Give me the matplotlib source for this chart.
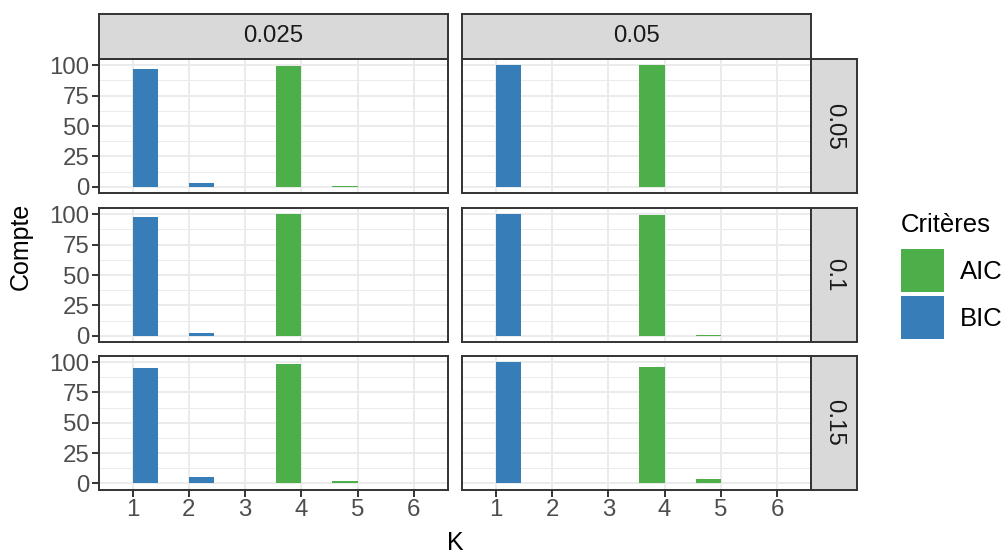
import matplotlib
matplotlib.use("Agg")
import matplotlib.pyplot as plt
from matplotlib.patches import Patch

# facet levels
col_levels = ["0.025", "0.05"]
row_levels = ["0.05", "0.1", "0.15"]
k_values = [1, 2, 3, 4, 5, 6]

# counts per panel (row, col), K = 1..6
aic_counts = {
    ("0.05", "0.025"): [0, 0, 0, 99, 1, 0],
    ("0.05", "0.05"): [0, 0, 0, 100, 0, 0],
    ("0.1", "0.025"): [0, 0, 0, 100, 0, 0],
    ("0.1", "0.05"): [0, 0, 0, 99, 1, 0],
    ("0.15", "0.025"): [0, 0, 0, 98, 2, 0],
    ("0.15", "0.05"): [0, 0, 0, 96, 4, 0],
}
bic_counts = {
    ("0.05", "0.025"): [97, 3, 0, 0, 0, 0],
    ("0.05", "0.05"): [100, 0, 0, 0, 0, 0],
    ("0.1", "0.025"): [98, 2, 0, 0, 0, 0],
    ("0.1", "0.05"): [100, 0, 0, 0, 0, 0],
    ("0.15", "0.025"): [95, 5, 0, 0, 0, 0],
    ("0.15", "0.05"): [100, 0, 0, 0, 0, 0],
}
y_ticks = [0, 25, 50, 75, 100]

AIC_COL = "#4DAF4A"
BIC_COL = "#377EB8"
BORDER = "#333333"
GRID = "#EBEBEB"
STRIP = "#D9D9D9"

plt.rcParams["font.family"] = ["Liberation Sans", "DejaVu Sans"]

W, H = 1005, 553
fig = plt.figure(figsize=(W / 100, H / 100), dpi=100)


def box(x0, y0, x1, y1):
    # pixel box (top-left origin) -> figure fraction rect
    return [x0 / W, 1 - y1 / H, (x1 - x0) / W, (y1 - y0) / H]


col_x = [(99, 447.5), (462, 811)]
row_y = [(59, 193), (208, 342), (356, 489.5)]
lw = 1.4
fs = 17.3

for i, r in enumerate(row_levels):
    for j, c in enumerate(col_levels):
        ax = fig.add_axes(box(col_x[j][0], row_y[i][0], col_x[j][1], row_y[i][1]))
        ax.set_axisbelow(True)
        ax.bar([k - 0.225 for k in k_values], aic_counts[(r, c)], width=0.45,
               color=AIC_COL, zorder=2)
        ax.bar([k + 0.225 for k in k_values], bic_counts[(r, c)], width=0.45,
               color=BIC_COL, zorder=2)
        ax.set_xlim(0.4, 6.6)
        ax.set_ylim(-5, 105)
        ax.set_xticks(k_values)
        ax.set_yticks(y_ticks)
        ax.set_yticks([12.5, 37.5, 62.5, 87.5], minor=True)
        ax.grid(which="major", color=GRID, linewidth=1.4)
        ax.grid(which="minor", axis="y", color=GRID, linewidth=0.7)
        for s in ax.spines.values():
            s.set_color(BORDER)
            s.set_linewidth(lw)
            s.set_zorder(3)
        ax.tick_params(which="major", length=5, width=lw, color=BORDER,
                       labelsize=fs, labelcolor="#4D4D4D", pad=2)
        ax.tick_params(which="minor", length=0)
        if j != 0:
            ax.tick_params(axis="y", left=False, labelleft=False)
        if i != len(row_levels) - 1:
            ax.tick_params(axis="x", bottom=False, labelbottom=False)

        # strips
        if i == 0:
            sa = fig.add_axes(box(col_x[j][0], 14, col_x[j][1], row_y[i][0]))
            sa.set_facecolor(STRIP)
            sa.set_xticks([])
            sa.set_yticks([])
            for s in sa.spines.values():
                s.set_color(BORDER)
                s.set_linewidth(lw)
            sa.text(0.5, 0.5, c, ha="center", va="center", fontsize=fs,
                    color="#1A1A1A", transform=sa.transAxes)
        if j == len(col_levels) - 1:
            sa = fig.add_axes(box(col_x[j][1], row_y[i][0], 857, row_y[i][1]))
            sa.set_facecolor(STRIP)
            sa.set_xticks([])
            sa.set_yticks([])
            for s in sa.spines.values():
                s.set_color(BORDER)
                s.set_linewidth(lw)
            sa.text(0.5, 0.5, r, ha="center", va="center", fontsize=fs,
                    color="#1A1A1A", rotation=-90, transform=sa.transAxes)

# axis titles
fig.text(455 / W, 1 - 543 / H, "K", ha="center", va="center", fontsize=18)
fig.text(21 / W, 1 - 246 / H, "Compte", ha="center", va="center",
         fontsize=18, rotation=90)

# legend (title drawn separately for exact spacing)
fig.text(901 / W, 1 - 232 / H, "Critères", ha="left", va="baseline",
         fontsize=18.5)
handles = [Patch(facecolor=AIC_COL, label="AIC"),
           Patch(facecolor=BIC_COL, label="BIC")]
leg = fig.legend(handles=handles, loc="upper left",
                 bbox_to_anchor=(901 / W, 1 - 249 / H), frameon=False,
                 fontsize=18.5, handlelength=1.676, handleheight=2.2,
                 handletextpad=0.62, labelspacing=0.16,
                 borderpad=0, borderaxespad=0)

fig.savefig("out.png", dpi=100)
